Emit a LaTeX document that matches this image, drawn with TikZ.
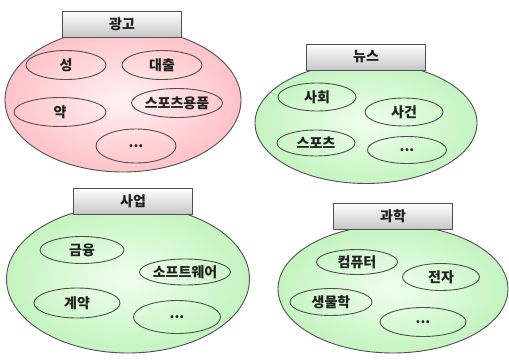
\documentclass[tikz,border=0pt]{standalone}
\usepackage{fontspec}
\newfontfamily\kr{Noto Sans CJK KR}
\usetikzlibrary{shapes.geometric}
\definecolor{pinkedge}{HTML}{FFC2C8}
\definecolor{pinkmid}{HTML}{FFF2F2}
\definecolor{greenedge}{HTML}{C4F4C0}
\definecolor{greenmid}{HTML}{F0FFEE}
\definecolor{lineg}{HTML}{505050}
\definecolor{txt}{HTML}{202020}
\tikzset{
  grp/.style={ellipse, draw=lineg, line width=0.9pt, inner sep=0pt},
  pinkgrp/.style={grp, inner color=pinkmid, outer color=pinkedge},
  greengrp/.style={grp, inner color=greenmid, outer color=greenedge},
  sub/.style={ellipse, draw=lineg, line width=0.9pt, inner sep=0pt, text=txt,
    font=\kr\bfseries\fontsize{14}{14}\selectfont, minimum width=80pt, minimum height=29pt},
  lbl/.style={rectangle, draw=lineg, line width=0.9pt, top color=white, bottom color=black!22,
    minimum width=119pt, minimum height=26pt, inner sep=0pt, text=txt,
    font=\kr\bfseries\fontsize{14}{14}\selectfont}
}
\begin{document}
\begin{tikzpicture}[x=1pt,y=-1pt]
\useasboundingbox (0,0) rectangle (509,359);
% group 1
\node[pinkgrp, minimum width=236pt, minimum height=144pt] (g1) at (123,100) {};
\node[lbl] (l1) at (122,24) {광고};
\node[sub] (a1) at (66,65) {성};
\node[sub] (a2) at (162,65) {대출};
\node[sub, minimum width=92pt] (a3) at (60,112) {약};
\node[sub, minimum width=80pt] (a4) at (177,103) {스포츠용품};
\node[sub, minimum height=34pt] (a5) at (136,146) {...};
% group 2
\node[greengrp, minimum width=222pt, minimum height=121pt] (g2) at (366,123) {};
\node[lbl] (l2) at (366,57) {뉴스};
\node[sub, minimum width=78pt, minimum height=28pt] (b1) at (317,97) {사회};
\node[sub, minimum width=78pt, minimum height=28pt] (b2) at (404,112) {사건};
\node[sub, minimum width=78pt, minimum height=26pt] (b3) at (316,143) {스포츠};
\node[sub, minimum width=79pt, minimum height=27pt] (b4) at (407,150) {...};
% group 3
\node[greengrp, minimum width=243pt, minimum height=148pt] (g3) at (128,279) {};
\node[lbl] (l3) at (133,201) {사업};
\node[sub, minimum width=84pt, minimum height=27pt] (c1) at (82,250) {금융};
\node[sub, minimum width=83pt, minimum height=26pt] (c2) at (185,272) {소프트웨어};
\node[sub, minimum width=86pt, minimum height=30pt] (c3) at (77,303) {계약};
\node[sub, minimum width=87pt, minimum height=33pt] (c4) at (177,317) {...};
% group 4
\node[greengrp, minimum width=230pt, minimum height=128pt] (g4) at (393,289) {};
\node[lbl] (l4) at (393,216) {과학};
\node[sub, minimum width=81pt, minimum height=25pt] (d1) at (357,262) {컴퓨터};
\node[sub, minimum width=77pt, minimum height=27pt] (d2) at (441,277) {전자};
\node[sub, minimum width=82pt, minimum height=27pt] (d3) at (331,302) {생물학};
\node[sub, minimum width=86pt, minimum height=29pt] (d4) at (423,322) {...};
\end{tikzpicture}
\end{document}
